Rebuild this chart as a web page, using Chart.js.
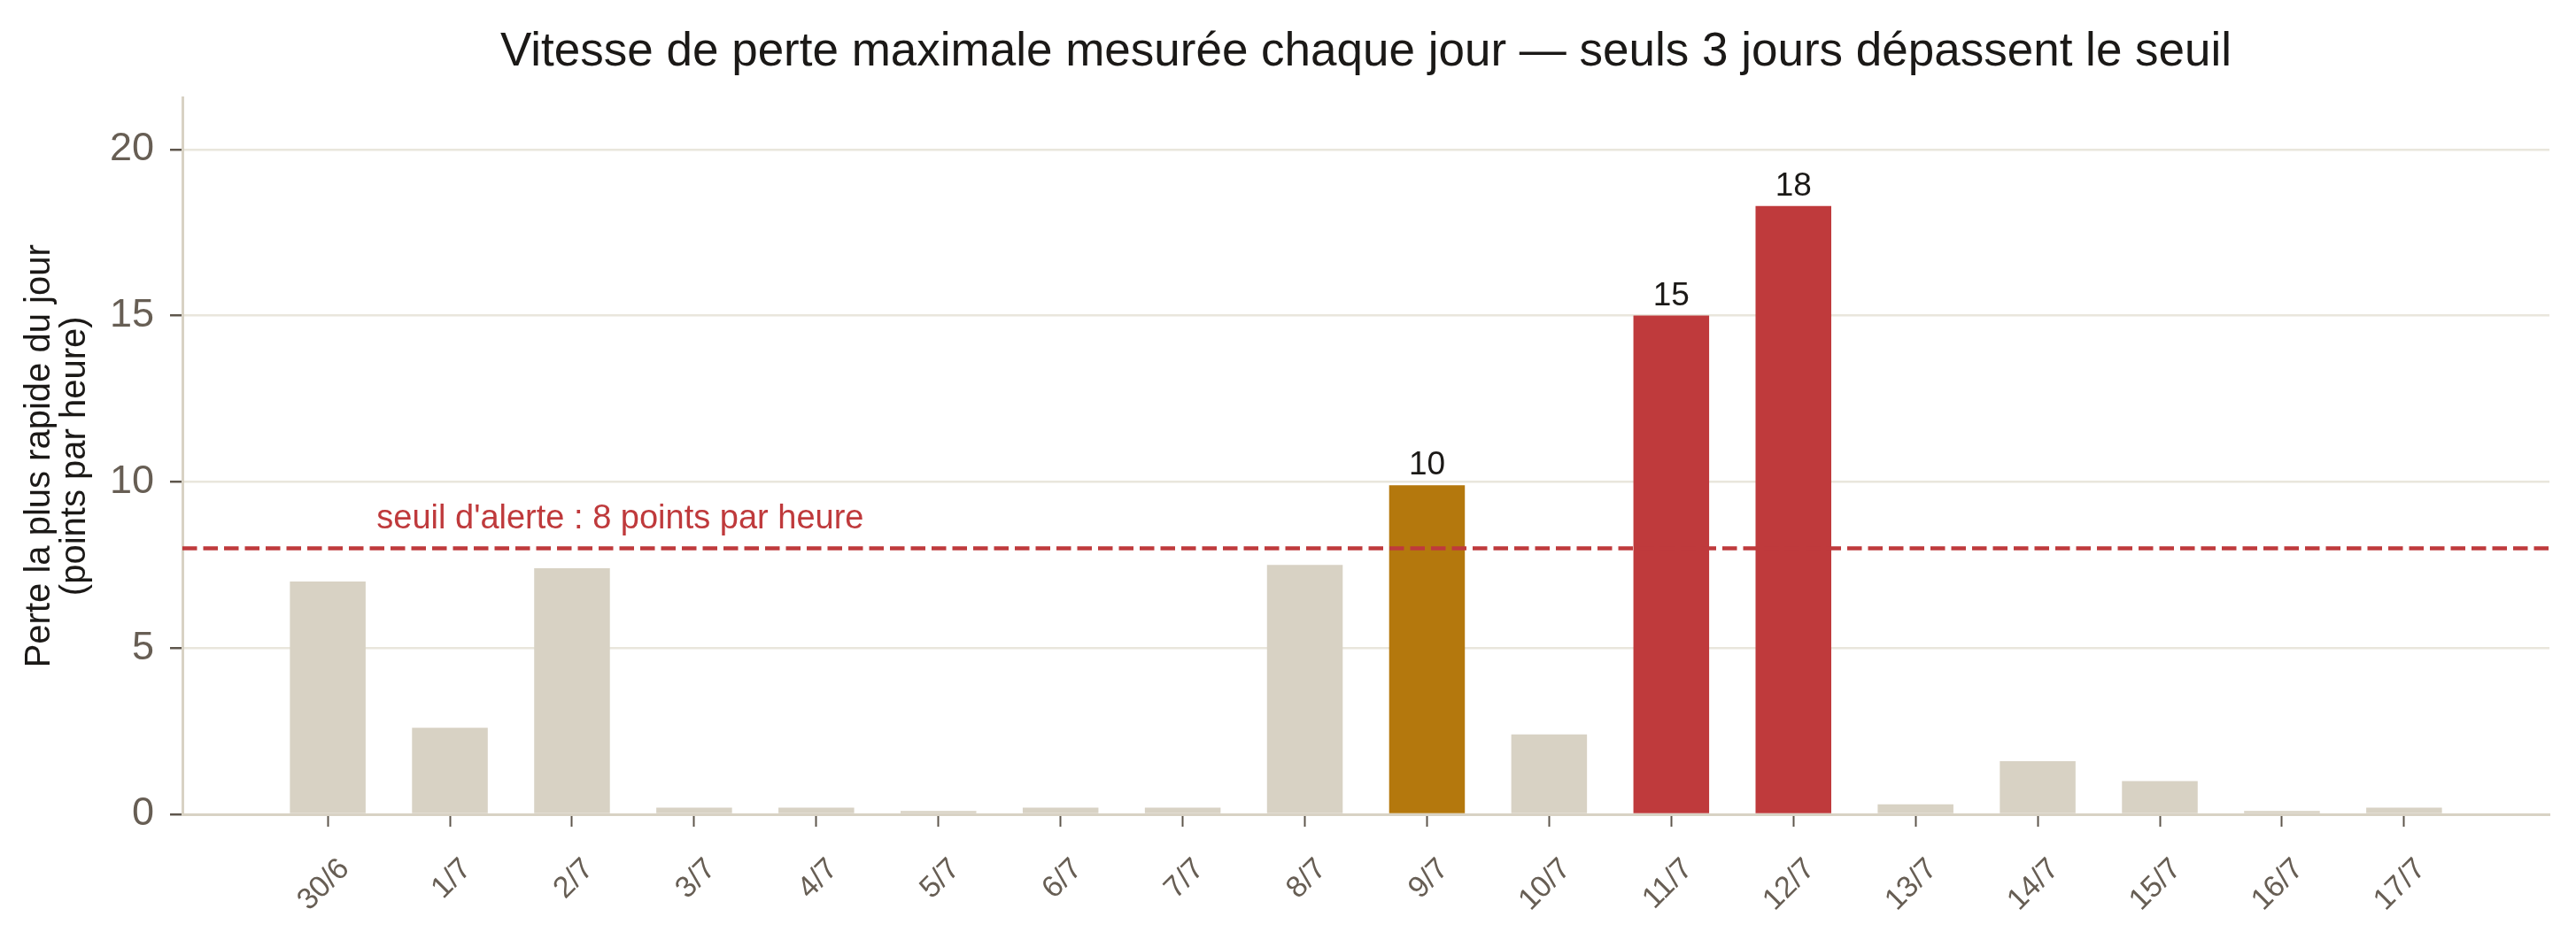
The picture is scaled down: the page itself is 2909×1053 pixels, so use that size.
<!DOCTYPE html>
<html><head><meta charset="utf-8">
<script src="https://cdn.jsdelivr.net/npm/chart.js@4.4.1/dist/chart.umd.min.js"></script>
<style>html,body{margin:0;padding:0;background:#fff;} #wrap{width:2909px;height:1053px;position:relative;}</style>
</head><body><div id="wrap"><canvas id="c"></canvas></div>
<script>
// ---- data ----
const categories = ['30/6','1/7','2/7','3/7','4/7','5/7','6/7','7/7','8/7','9/7','10/7','11/7','12/7','13/7','14/7','15/7','16/7','17/7'];
const maxLossRate = [7.0, 2.6, 7.4, 0.2, 0.2, 0.1, 0.2, 0.2, 7.5, 9.9, 2.4, 15.0, 18.3, 0.3, 1.6, 1.0, 0.1, 0.2];
const alertThreshold = 8;
const criticalLevel = 12;
const yTickValues = [0, 5, 10, 15, 20];
const chartTitle = 'Vitesse de perte maximale mesurée chaque jour — seuls 3 jours dépassent le seuil';
const yAxisTitle = ['Perte la plus rapide du jour', '(points par heure)'];
const thresholdLabel = "seuil d'alerte : 8 points par heure";

// ---- style ----
const FONT = '"Liberation Sans", Arial, Helvetica, sans-serif';
const INK = '#1b1917';
const TICK_LABEL = '#675e54';
const TICK_MARK = '#5e564c';
const AXIS = '#d8d2c4';
const GRID = '#e9e6dc';
const GREY = '#d8d2c4';
const GOLD = '#b4780d';
const RED = '#bf3a3c';
const X_MIN = -1.19, X_MAX = 18.19, Y_MAX = 21.55;
const LABEL_ANCHOR_X = 0.4;

function colorFor(v) {
  if (v > criticalLevel) return RED;
  if (v > alertThreshold) return GOLD;
  return GREY;
}

const annotate = {
  id: 'annotate',
  afterDatasetsDraw(chart) {
    const {ctx, chartArea, scales: {x, y}} = chart;
    const yT = y.getPixelForValue(alertThreshold);
    ctx.save();
    ctx.strokeStyle = RED; ctx.lineWidth = 4.5; ctx.setLineDash([16.5, 7]);
    ctx.beginPath(); ctx.moveTo(chartArea.left, yT); ctx.lineTo(chartArea.right, yT); ctx.stroke();
    ctx.setLineDash([]);
    ctx.fillStyle = RED; ctx.font = '38px ' + FONT; ctx.textAlign = 'left'; ctx.textBaseline = 'alphabetic';
    ctx.fillText(thresholdLabel, x.getPixelForValue(LABEL_ANCHOR_X), yT - 23);
    const meta = chart.getDatasetMeta(0);
    ctx.fillStyle = INK; ctx.font = '37px ' + FONT; ctx.textAlign = 'center';
    meta.data.forEach((bar, i) => {
      const v = maxLossRate[i];
      if (v > alertThreshold) ctx.fillText(String(Math.round(v)), bar.x, bar.y - 12);
    });
    ctx.restore();
  }
};

new Chart(document.getElementById('c'), {
  type: 'bar',
  data: {
    datasets: [{
      data: maxLossRate.map((v, i) => ({x: i, y: v})),
      backgroundColor: maxLossRate.map(colorFor),
      borderWidth: 0,
      categoryPercentage: 1,
      barPercentage: 0.62
    }]
  },
  options: {
    responsive: true, maintainAspectRatio: false, animation: false, devicePixelRatio: 1,
    layout: {padding: {left: 0, right: 30, top: 0, bottom: 0}},
    plugins: {
      legend: {display: false},
      tooltip: {enabled: false},
      title: {
        display: true, text: chartTitle, fullSize: false, color: INK,
        font: {family: FONT, size: 53, weight: 'normal', lineHeight: 1.2},
        padding: {top: 28, bottom: 19}
      }
    },
    scales: {
      x: {
        type: 'linear', min: X_MIN, max: X_MAX, offset: false,
        afterBuildTicks: s => { s.ticks = categories.map((_, i) => ({value: i})); },
        afterFit: s => { s.height = 133; },
        grid: {drawOnChartArea: false, drawTicks: true, tickLength: 14, tickWidth: 2, tickColor: TICK_MARK, offset: false},
        border: {display: true, color: AXIS, width: 3},
        ticks: {
          autoSkip: false, minRotation: 45, maxRotation: 45, color: TICK_LABEL,
          font: {family: FONT, size: 34}, padding: 28, labelOffset: 19,
          callback: v => categories[v] ?? ''
        }
      },
      y: {
        min: 0, max: Y_MAX,
        afterBuildTicks: s => { s.ticks = yTickValues.map(v => ({value: v})); },
        afterFit: s => { s.width = 206; },
        grid: {color: GRID, lineWidth: 2.5, tickLength: 14, tickWidth: 2.5, tickColor: TICK_MARK},
        border: {display: true, color: AXIS, width: 3},
        ticks: {color: TICK_LABEL, font: {family: FONT, size: 45}, padding: 18},
        title: {display: true, text: yAxisTitle, color: INK, font: {family: FONT, size: 40, lineHeight: 1.0}, padding: {top: 25, bottom: 0}}
      }
    }
  },
  plugins: [annotate]
});
</script>
</body></html>
